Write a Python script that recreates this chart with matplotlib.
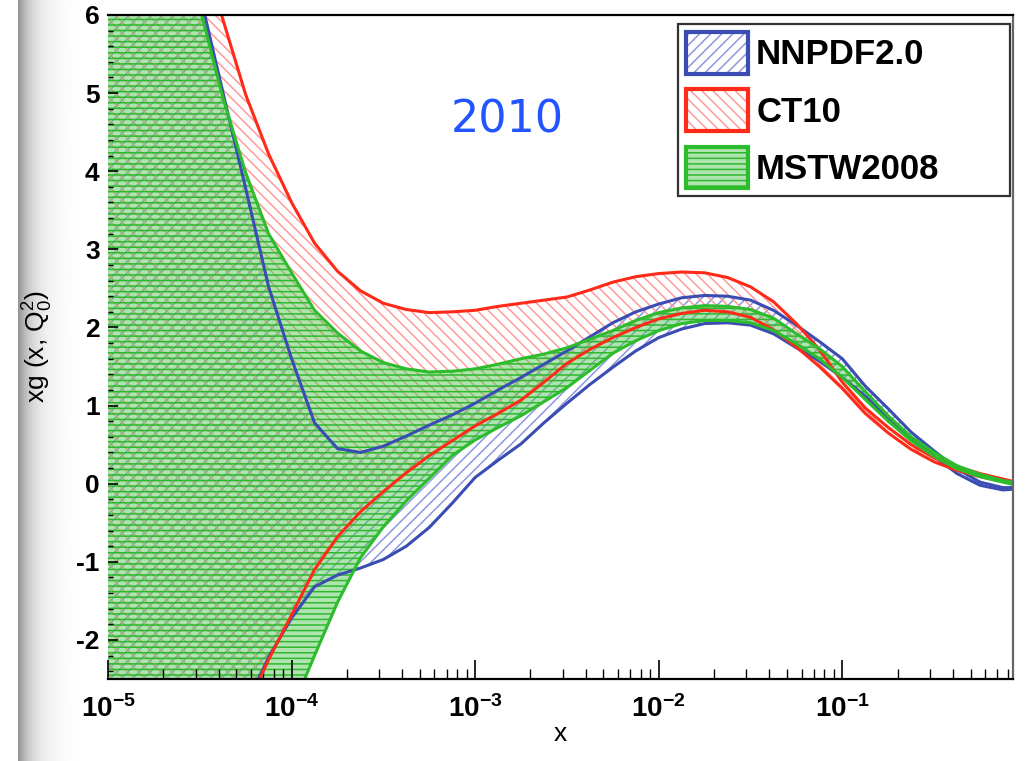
import numpy as np
import matplotlib
matplotlib.use("Agg")
import matplotlib.pyplot as plt
from matplotlib.patches import Patch
from matplotlib.legend_handler import HandlerTuple
from matplotlib.ticker import FixedLocator, NullFormatter

# ---------------- data ----------------
log10_x = [-5.0, -4.875, -4.75, -4.625, -4.5, -4.375, -4.25, -4.125, -4.0,
           -3.875, -3.75, -3.625, -3.5, -3.375, -3.25, -3.125, -3.0,
           -2.875, -2.75, -2.625, -2.5, -2.375, -2.25, -2.125, -2.0,
           -1.875, -1.75, -1.625, -1.5, -1.375, -1.25, -1.125, -1.0,
           -0.875, -0.75, -0.625, -0.5, -0.375, -0.25, -0.125, -0.07]

ct10_hi = [11.0, 10.0, 9.0, 8.0, 6.95, 5.95, 4.98, 4.22, 3.6, 3.08, 2.72, 2.47,
           2.31, 2.23, 2.19, 2.2, 2.22, 2.27, 2.31, 2.35, 2.39, 2.48, 2.58, 2.65,
           2.69, 2.71, 2.7, 2.64, 2.52, 2.33, 2.05, 1.72, 1.3, 0.97, 0.72, 0.5,
           0.33, 0.22, 0.13, 0.06, 0.03]
ct10_lo = [-8.5, -7.5, -6.5, -5.5, -4.6, -3.7, -2.9, -2.25, -1.68, -1.1, -0.68,
           -0.36, -0.1, 0.14, 0.36, 0.55, 0.74, 0.9, 1.07, 1.3, 1.54, 1.72, 1.87,
           2.0, 2.11, 2.18, 2.22, 2.2, 2.13, 1.97, 1.75, 1.5, 1.22, 0.9, 0.65,
           0.44, 0.28, 0.17, 0.09, 0.03, 0.0]
nnpdf_hi = [10.7, 9.6, 8.5, 7.4, 6.27, 5.02, 3.78, 2.52, 1.6, 0.78, 0.45, 0.4,
            0.48, 0.61, 0.75, 0.88, 1.03, 1.2, 1.36, 1.53, 1.7, 1.88, 2.06, 2.2,
            2.3, 2.38, 2.41, 2.4, 2.35, 2.22, 2.03, 1.82, 1.6, 1.25, 0.96, 0.66,
            0.42, 0.19, 0.02, -0.05, -0.05]
nnpdf_lo = [-8.5, -7.5, -6.5, -5.5, -4.6, -3.7, -2.85, -2.22, -1.72, -1.32,
            -1.17, -1.08, -0.97, -0.8, -0.56, -0.25, 0.08, 0.3, 0.51, 0.78, 1.03,
            1.27, 1.49, 1.7, 1.87, 1.98, 2.05, 2.06, 2.03, 1.92, 1.74, 1.57, 1.36,
            1.12, 0.85, 0.58, 0.35, 0.13, -0.02, -0.08, -0.07]
mstw_hi = [10.5, 9.4, 8.3, 7.2, 6.1, 4.95, 3.98, 3.2, 2.7, 2.22, 1.93, 1.7,
           1.55, 1.47, 1.43, 1.44, 1.47, 1.53, 1.6, 1.66, 1.74, 1.85, 1.96, 2.09,
           2.19, 2.25, 2.28, 2.27, 2.23, 2.12, 1.92, 1.73, 1.5, 1.18, 0.87, 0.6,
           0.4, 0.23, 0.12, 0.04, 0.02]
mstw_lo = [-9.4, -8.6, -7.8, -7.0, -6.1, -5.3, -4.5, -3.7, -2.9, -2.2, -1.52,
           -0.95, -0.55, -0.22, 0.07, 0.36, 0.56, 0.72, 0.87, 1.05, 1.23, 1.45,
           1.67, 1.83, 1.96, 2.05, 2.09, 2.09, 2.06, 1.96, 1.79, 1.6, 1.36, 1.08,
           0.8, 0.55, 0.35, 0.19, 0.09, 0.02, -0.01]

labels = ["NNPDF2.0", "CT10", "MSTW2008"]
year_text = "2010"
y_ticks = [-2, -1, 0, 1, 2, 3, 4, 5, 6]
x_decades = [-5, -4, -3, -2, -1]

# ---------------- style ----------------
plt.rcParams['font.family'] = ['Liberation Sans', 'DejaVu Sans']
plt.rcParams['mathtext.fontset'] = 'custom'
plt.rcParams['mathtext.rm'] = 'Liberation Sans'
plt.rcParams['mathtext.it'] = 'Liberation Sans:italic'
plt.rcParams['mathtext.bf'] = 'Liberation Sans:bold'
plt.rcParams['hatch.linewidth'] = 1.1

BLUE, BLUE_H = '#3b4db3', '#8d98dd'
RED, RED_H = '#ff2a18', '#ff9a9a'
GREEN, GREEN_H = '#2cbc2c', '#2fb82f'
GREEN_FACE = (0.30, 0.78, 0.30, 0.45)

W, H = 1030, 761
fig = plt.figure(figsize=(W / 100, H / 100), dpi=100)

# grey shadow band at the left edge of the picture
sh = fig.add_axes([18 / W, 0, 62 / W, 1])
d = np.arange(62)
shade = 1 - 0.42 * np.exp(-d / 15.0)
sh.imshow(np.tile(shade, (8, 1)), cmap='gray', vmin=0, vmax=1,
          aspect='auto', extent=[0, 1, 0, 1], interpolation='bilinear')
sh.axis('off')

ax = fig.add_axes([108 / W, 1 - 679 / H, (1013 - 108) / W, (679 - 15) / H])
x = np.power(10.0, log10_x)

ax.fill_between(x, nnpdf_lo, nnpdf_hi, facecolor='none', edgecolor=BLUE_H,
                hatch='///', linewidth=0, zorder=1.0)
ax.fill_between(x, ct10_lo, ct10_hi, facecolor='none', edgecolor=RED_H,
                hatch='\\\\\\', linewidth=0, zorder=1.1)
ax.fill_between(x, mstw_lo, mstw_hi, facecolor=GREEN_FACE,
                edgecolor=GREEN_H, hatch='---', linewidth=0, zorder=1.2)

for lo, hi, c in [(nnpdf_lo, nnpdf_hi, BLUE), (ct10_lo, ct10_hi, RED),
                  (mstw_lo, mstw_hi, GREEN)]:
    ax.plot(x, lo, color=c, lw=2.2, zorder=3, solid_joinstyle='round')
    ax.plot(x, hi, color=c, lw=2.2, zorder=3, solid_joinstyle='round')

ax.set_xscale('log')
ax.set_xlim(1e-5, 10 ** -0.07)
ax.set_ylim(-2.5, 6)

ax.xaxis.set_major_locator(FixedLocator([10.0 ** k for k in x_decades]))
minors = [m * 10.0 ** k for k in x_decades for m in range(2, 10)]
ax.xaxis.set_minor_locator(FixedLocator(minors))
ax.xaxis.set_minor_formatter(NullFormatter())
ax.set_xticklabels([r'$\mathbf{10^{%d}}$' % k for k in x_decades])

ax.set_yticks(y_ticks)
ax.set_yticklabels([str(v) for v in y_ticks])
ax.yaxis.set_minor_locator(FixedLocator(np.arange(-2.4, 6.01, 0.2)))

ax.tick_params(axis='x', which='major', direction='in', length=14, width=1.2,
               labelsize=20, pad=12)
ax.tick_params(axis='x', which='minor', direction='in', length=7, width=1.0)
ax.tick_params(axis='y', which='major', direction='in', length=7, width=1.2,
               labelsize=19, pad=6)
ax.tick_params(axis='y', which='minor', direction='in', length=3.5, width=1.0)
for lab in ax.get_yticklabels():
    lab.set_fontweight('bold')

ax.spines['left'].set_visible(False)
ax.spines['top'].set_linewidth(1.6)
ax.spines['bottom'].set_linewidth(1.6)
ax.spines['right'].set_linewidth(1.6)
ax.spines['right'].set_color('#666666')
for s in ax.spines.values():
    s.set_zorder(4)

# legend
handles = [
    (Patch(facecolor='white', edgecolor=BLUE_H, hatch='///', linewidth=0),
     Patch(facecolor='none', edgecolor=BLUE, linewidth=3, joinstyle='round')),
    (Patch(facecolor='white', edgecolor=RED_H, hatch='\\\\\\', linewidth=0),
     Patch(facecolor='none', edgecolor=RED, linewidth=3, joinstyle='round')),
    (Patch(facecolor=GREEN_FACE, edgecolor=GREEN_H, hatch='---', linewidth=0),
     Patch(facecolor='none', edgecolor=GREEN, linewidth=3, joinstyle='round')),
]
leg = ax.legend(handles, labels,
                handler_map={tuple: HandlerTuple(ndivide=1, pad=0)},
                loc='upper left',
                bbox_to_anchor=(678 / W, 1 - 222 / H, 332 / W, 198 / H),
                bbox_transform=fig.transFigure, borderaxespad=0, mode='expand',
                prop={'size': 25, 'weight': 'bold'}, handlelength=1.79,
                handleheight=1.47, labelspacing=0.45, handletextpad=0.23,
                borderpad=0.23, fancybox=False, framealpha=1)
leg.get_frame().set_edgecolor('#333333')
leg.get_frame().set_linewidth(1.6)
leg.set_zorder(5)

fig.text(507 / W, 1 - 120 / H, year_text, color='#2255ff', fontsize=32,
         family='DejaVu Sans', ha='center', va='center')
fig.text(38 / W, 1 - 347 / H, r'xg (x, Q$_0^2$)', rotation=90, fontsize=19,
         ha='center', va='center')
fig.text(560 / W, 1 - 734 / H, 'x', fontsize=19, ha='center', va='center')

fig.savefig('out.png', dpi=100)
